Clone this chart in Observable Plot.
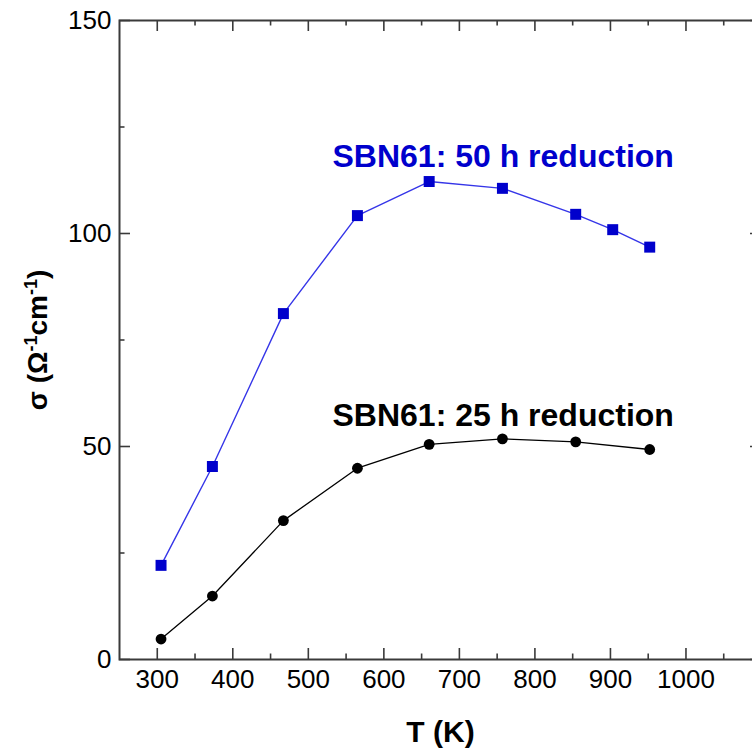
<!DOCTYPE html>
<html>
<head>
<meta charset="utf-8">
<script src="https://cdn.jsdelivr.net/npm/d3@7"></script>
<script src="https://cdn.jsdelivr.net/npm/@observablehq/plot@0.6"></script>
<style>
  html, body { margin: 0; padding: 0; background: #fff; }
  #chart { width: 752px; height: 748px; overflow: hidden; }
  #chart svg g[aria-label="x-axis tick label"],
  #chart svg g[aria-label="y-axis tick label"] { font-size: 26px; }
</style>
</head>
<body>
<div id="chart"></div>
<script>
// Conductivity of reduced SBN61 vs temperature
const temp50 = [305, 373, 467, 565, 660, 757, 854, 903, 952];
const sigma50 = [22.1, 45.3, 81.2, 104.2, 112.2, 110.6, 104.5, 100.9, 96.8];

const temp25 = [305, 373, 467, 565, 660, 757, 854, 952];
const sigma25 = [4.8, 14.9, 32.6, 44.9, 50.5, 51.8, 51.1, 49.3];

const xMajor = [300, 400, 500, 600, 700, 800, 900, 1000];
const xMinor = [350, 450, 550, 650, 750, 850, 950, 1050];
const yMajor = [0, 50, 100, 150];
const yMinor = [25, 75, 125];

const seriesLabels = ["SBN61: 50 h reduction", "SBN61: 25 h reduction"];
const labelT = [532, 532];
const labelSigma = [118, 57.3];

const xTitle = "T (K)";
const yTitle = "σ (Ω-1cm-1)";

const rows50 = temp50.map((t, i) => ({t, s: sigma50[i]}));
const rows25 = temp25.map((t, i) => ({t, s: sigma25[i]}));
const notes = seriesLabels.map((text, i) => ({text, t: labelT[i], s: labelSigma[i]}));

const W = 752, H = 748;
const mL = 119, mR = -9, mT = 20, mB = 89;
const frameW = W - mR - mL;
const frameH = H - mB - mT;
const major = 11, minor = 5.5;
const axisColor = "#3a3a3a";

const blue = "#0000cc";

const chart = Plot.plot({
  width: W,
  height: H,
  marginLeft: mL,
  marginRight: mR,
  marginTop: mT,
  marginBottom: mB,
  style: {fontFamily: "'Liberation Sans', Arial, sans-serif", fontSize: "26px", color: "#000", background: "#fff"},
  x: {domain: [250, 1100]},
  y: {domain: [0, 150]},
  marks: [
    // inward ticks on all four sides
    Plot.tickX(xMajor, {x: d => d, insetTop: frameH - major, stroke: axisColor, strokeWidth: 1.6}),
    Plot.tickX(xMinor, {x: d => d, insetTop: frameH - minor, stroke: axisColor, strokeWidth: 1.6}),
    Plot.tickX(xMajor, {x: d => d, insetBottom: frameH - major, stroke: axisColor, strokeWidth: 1.6}),
    Plot.tickX(xMinor, {x: d => d, insetBottom: frameH - minor, stroke: axisColor, strokeWidth: 1.6}),
    Plot.tickY(yMajor, {y: d => d, insetRight: frameW - major, stroke: axisColor, strokeWidth: 1.6}),
    Plot.tickY(yMinor, {y: d => d, insetRight: frameW - minor, stroke: axisColor, strokeWidth: 1.6}),
    Plot.tickY(yMajor, {y: d => d, insetLeft: frameW - major, stroke: axisColor, strokeWidth: 1.6}),
    Plot.tickY(yMinor, {y: d => d, insetLeft: frameW - minor, stroke: axisColor, strokeWidth: 1.6}),
    Plot.frame({stroke: axisColor, strokeWidth: 2}),
    Plot.axisX({ticks: xMajor, tickSize: 0, tickPadding: 10, label: null, tickFormat: d => String(d)}),
    Plot.axisY({ticks: yMajor, tickSize: 0, tickPadding: 8, label: null, tickFormat: d => String(d)}),

    // series
    Plot.line(rows50, {x: "t", y: "s", stroke: "#3535e8", strokeWidth: 1.4}),
    Plot.dot(rows50, {x: "t", y: "s", symbol: "square", r: 6.2, fill: blue, stroke: "none"}),
    Plot.line(rows25, {x: "t", y: "s", stroke: "#000", strokeWidth: 1.3}),
    Plot.dot(rows25, {x: "t", y: "s", symbol: "circle", r: 5.4, fill: "#000", stroke: "none"}),

    // series annotations
    Plot.text(notes, {x: "t", y: "s", text: "text", textAnchor: "start", lineAnchor: "middle",
      fontSize: 32, fontWeight: "bold", fill: (d, i) => i === 0 ? blue : "#000"}),

    // axis titles
    Plot.text([xTitle], {text: d => d, frameAnchor: "bottom", dy: 82, lineAnchor: "bottom",
      fontSize: 30, fontWeight: "bold"}),
    Plot.text([yTitle], {text: d => d, x: () => 250, y: () => 75, dx: -81, rotate: -90,
      textAnchor: "middle", lineAnchor: "middle", fontSize: 28, fontWeight: "bold"})
  ]
});

document.getElementById("chart").appendChild(chart);

// Render the "-1" exponents of the y title as superscripts
d3.select(chart).selectAll("text").filter(function() { return this.textContent === yTitle; })
  .each(function() {
    const t = d3.select(this);
    t.text(null);
    const parts = [["σ (Ω", false], ["-1", true], ["cm", false], ["-1", true], [")", false]];
    parts.forEach(([s, sup]) => {
      const sp = t.append("tspan").text(s);
      if (sup) sp.attr("baseline-shift", "super").attr("font-size", "18px");
    });
  });
</script>
</body>
</html>
